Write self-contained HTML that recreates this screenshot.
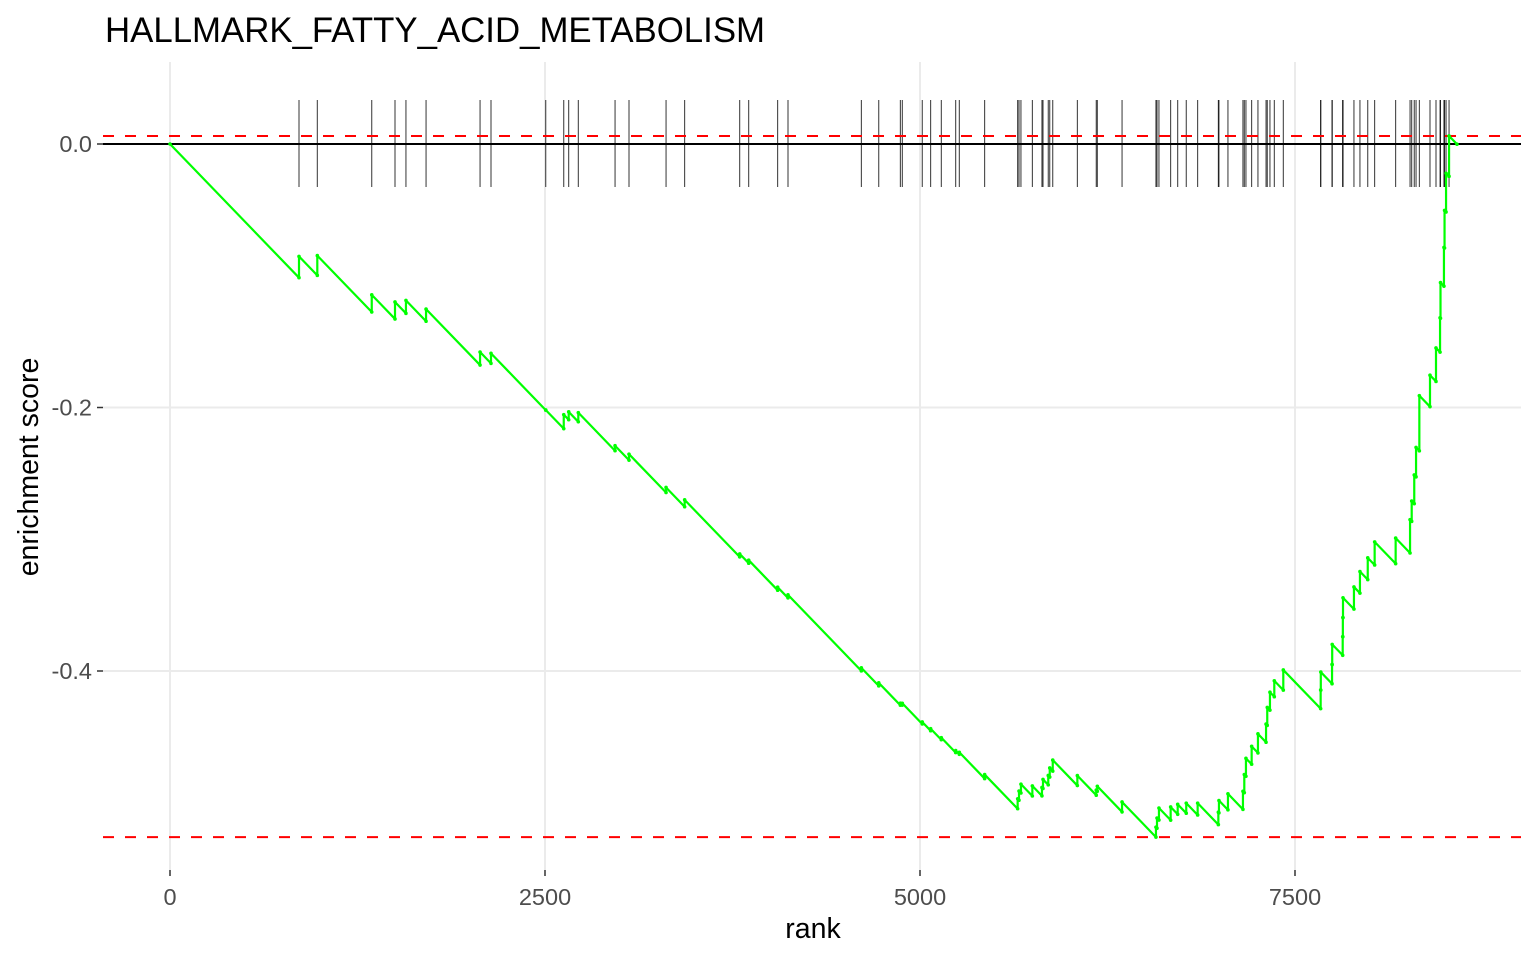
<!DOCTYPE html>
<html><head><meta charset="utf-8"><style>
body{margin:0;background:#fff;}
svg text{font-family:"Liberation Sans",sans-serif;}
</style></head><body>
<svg id="chart" width="1536" height="960" viewBox="0 0 1536 960" xmlns="http://www.w3.org/2000/svg">
<text x="105" y="42" font-size="34.8" fill="#000">HALLMARK_FATTY_ACID_METABOLISM</text>
<text transform="translate(38,467) rotate(-90)" text-anchor="middle" font-size="28.5" fill="#000">enrichment score</text>
<text x="813" y="938" text-anchor="middle" font-size="28.5" fill="#000">rank</text>
<g id="grid"></g>
<g id="ticks"></g>
<g id="hits"></g>
<g id="lines"></g>
<g id="curve"></g>
</svg>
<script>
const hitRanks=[860,982,1345,1500,1573,1707,2067,2140,2505,2625,2658,2722,2967,3060,3307,3431,3798,3858,4051,4120,4609,4725,4869,4882,5015,5071,5142,5238,5262,5431,5651,5660,5673,5749,5813,5820,5855,5865,5885,6049,6175,6182,6347,6573,6580,6593,6671,6718,6775,6851,6989,6993,7053,7153,7162,7173,7211,7253,7307,7315,7333,7362,7422,7671,7672,7747,7748,7818,7819,7820,7893,7933,7985,8031,8171,8267,8278,8295,8307,8329,8400,8440,8467,8470,8493,8497,8507,8527];
const hitES=[-0.0853,-0.0847,-0.1145,-0.1199,-0.1187,-0.1253,-0.1579,-0.1589,-0.2019,-0.2054,-0.2033,-0.2039,-0.2290,-0.2354,-0.2607,-0.2701,-0.3111,-0.3159,-0.3364,-0.3422,-0.3976,-0.4090,-0.4244,-0.4245,-0.4387,-0.4438,-0.4506,-0.4604,-0.4617,-0.4786,-0.4970,-0.4911,-0.4859,-0.4872,-0.4884,-0.4823,-0.4793,-0.4736,-0.4676,-0.4794,-0.4904,-0.4875,-0.4994,-0.5185,-0.5116,-0.5040,-0.5032,-0.5012,-0.5003,-0.5003,-0.5072,-0.4983,-0.4932,-0.4913,-0.4786,-0.4663,-0.4572,-0.4477,-0.4403,-0.4276,-0.4161,-0.4074,-0.3992,-0.4144,-0.4008,-0.3950,-0.3798,-0.3739,-0.3594,-0.3444,-0.3362,-0.3245,-0.3141,-0.3020,-0.2991,-0.2851,-0.2710,-0.2512,-0.2303,-0.1910,-0.1755,-0.1548,-0.1319,-0.1052,-0.0785,-0.0504,-0.0222,0.0061];
const totalRanks=[8580];
const missStep=[0.000118];
const xTicks=[0,2500,5000,7500];
const xTickLabels=["0","2500","5000","7500"];
const yTicks=[0,-0.2,-0.4];
const yTickLabels=["0.0","-0.2","-0.4"];

const NS="http://www.w3.org/2000/svg";
const X0=103,X1=1521,Y0=62,Y1=870;
function sx(r){return 170+r*0.15;}
function sy(v){return 144-v*1317.5;}
function mk(tag,attrs,parent){const e=document.createElementNS(NS,tag);for(const k in attrs)e.setAttribute(k,attrs[k]);parent.appendChild(e);return e;}
const grid=document.getElementById('grid'),ticks=document.getElementById('ticks'),hits=document.getElementById('hits'),lines=document.getElementById('lines'),curve=document.getElementById('curve');

xTicks.forEach((t,i)=>{
  const g=mk('line',{x1:sx(t),x2:sx(t),y1:Y0,y2:Y1,stroke:'#ebebeb','stroke-width':2},grid);
  
  
  const tk=mk('line',{x1:sx(t),x2:sx(t),y1:Y1,y2:Y1+6,stroke:'#333','stroke-width':1.5},ticks);
  
  
  const tx=mk('text',{x:sx(t),y:905,'text-anchor':'middle','font-size':23.5,fill:'#4d4d4d'},ticks);
  tx.textContent=xTickLabels[i];
  
  
});
yTicks.forEach((t,i)=>{
  const g=mk('line',{x1:X0,x2:X1,y1:sy(t),y2:sy(t),stroke:'#ebebeb','stroke-width':2},grid);
  
  
  const tk=mk('line',{x1:97,x2:103,y1:sy(t),y2:sy(t),stroke:'#333','stroke-width':1.5},ticks);
  
  
  const tx=mk('text',{x:92,y:sy(t)+8,'text-anchor':'end','font-size':23.5,fill:'#4d4d4d'},ticks);
  tx.textContent=yTickLabels[i];
  
  
});
hitRanks.forEach(r=>{
  const l=mk('line',{x1:sx(r),x2:sx(r),y1:100,y2:187,stroke:'#000','stroke-width':1,'stroke-opacity':0.8},hits);
  
  
});
let pts=[[0,0]],prevR=0,prevV=0;
hitRanks.forEach((r,i)=>{
  const b=prevV-missStep[0]*(r-prevR);
  pts.push([r,b]);pts.push([r,hitES[i]]);
  prevR=r;prevV=hitES[i];
});
pts.push([totalRanks[0],prevV-missStep[0]*(totalRanks[0]-prevR)]);
let vmax=Math.max(...pts.map(p=>p[1])),vmin=Math.min(...pts.map(p=>p[1]));
const z=mk('line',{x1:X0,x2:X1,y1:sy(0),y2:sy(0),stroke:'#000','stroke-width':2},lines);


const rmax=mk('line',{x1:X0,x2:X1,y1:sy(vmax),y2:sy(vmax),stroke:'#ff0000','stroke-width':2,'stroke-dasharray':'11,11'},lines);


const rmin=mk('line',{x1:X0,x2:X1,y1:sy(vmin),y2:sy(vmin),stroke:'#ff0000','stroke-width':2,'stroke-dasharray':'11,11'},lines);


const path=mk('polyline',{points:pts.map(p=>sx(p[0]).toFixed(2)+','+sy(p[1]).toFixed(2)).join(' '),fill:'none',stroke:'#00ff00','stroke-width':2.2,'stroke-linejoin':'round'},curve);


pts.forEach(p=>{
  const c=mk('circle',{cx:sx(p[0]),cy:sy(p[1]),r:1.8,fill:'#00ff00'},curve);
  
  
});
</script>
</body></html>
